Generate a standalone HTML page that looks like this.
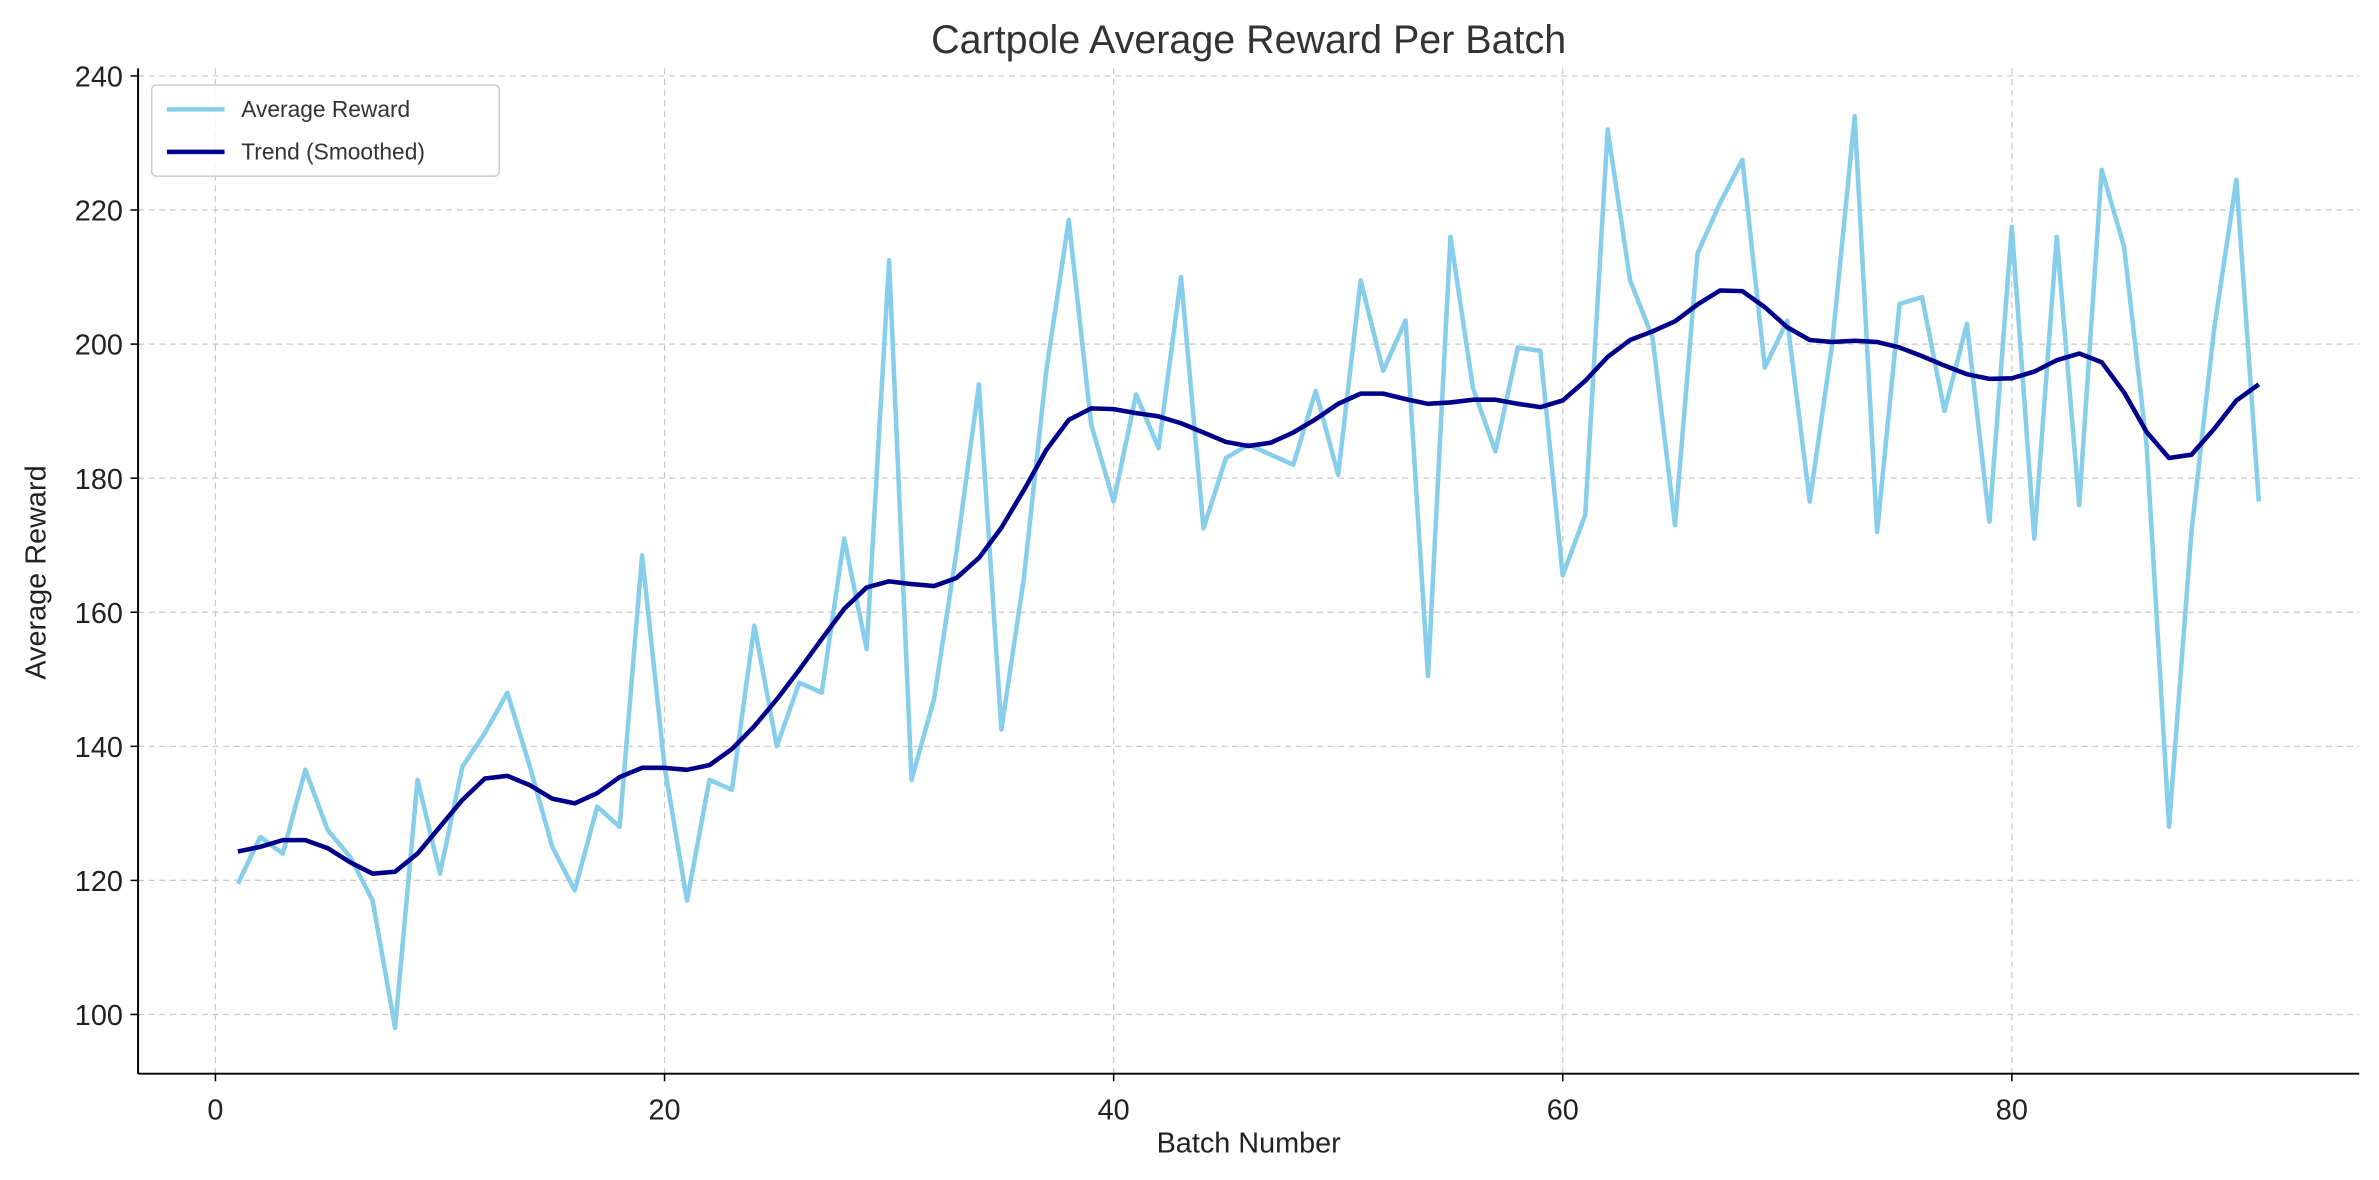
<!DOCTYPE html>
<html><head><meta charset="utf-8"><style>
html,body{margin:0;padding:0;background:#fff;overflow:hidden;}
svg{display:block;font-family:"Liberation Sans","DejaVu Sans",sans-serif;}
</style></head><body>
<svg id="chart" width="2379" height="1180" viewBox="0 0 1568 777" preserveAspectRatio="none" xmlns="http://www.w3.org/2000/svg">
<rect width="1568" height="777" fill="#fff"/>
<text x="823" y="35" font-size="26" fill="#333" text-anchor="middle">Cartpole Average Reward Per Batch</text>
<g id="grid"></g><g id="series"></g><g id="axes"></g>
<text x="823" y="759" font-size="19" fill="#222" text-anchor="middle">Batch Number</text>
<text x="30" y="377" font-size="19" fill="#222" text-anchor="middle" transform="rotate(-90 30 377)">Average Reward</text>
<g>
<rect x="100" y="56" width="229" height="60" rx="3" fill="#fff" fill-opacity="0.85" stroke="#ccc"/>
<line x1="110" y1="72" x2="148" y2="72" stroke="#87ceeb" stroke-width="3"/>
<text x="159" y="77" font-size="15" fill="#333">Average Reward</text>
<line x1="110" y1="100" x2="148" y2="100" stroke="#00008b" stroke-width="3"/>
<text x="159" y="105" font-size="15" fill="#333">Trend (Smoothed)</text>
</g>
</svg>
<script>
const rewards=[119.5,126.5,124,136.5,127.5,123.5,117,98,135,121,137,142,148,137,125,118.5,131,128,168.5,137,117,135,133.5,158,140,149.5,148,171,154.5,212.5,135,147,169,194,142.5,165,196,218.5,188,176.5,192.5,184.5,210,172.5,183,185,183.5,182,193,180.5,209.5,196,203.5,150.5,216,193.5,184,199.5,199,165.5,174.5,232,209.5,201,173,213.5,221,227.5,196.5,203.5,176.5,200,234,172,206,207,190,203,173.5,217.5,171,216,176,226,214.5,185,128,172,202,224.5,176.5];
const trend=[124.3,125,126,126,124.8,122.7,121,121.3,124,128,132,135.2,135.6,134.2,132.2,131.5,133,135.4,136.8,136.8,136.5,137.2,139.6,143,147,151.4,156,160.5,163.7,164.6,164.2,163.9,165.1,168.1,172.6,178.2,184.2,188.7,190.4,190.3,189.7,189.2,188.2,186.8,185.4,184.8,185.3,186.8,188.8,191.1,192.6,192.6,191.8,191.1,191.3,191.7,191.7,191.1,190.6,191.6,194.5,198.1,200.6,201.9,203.4,205.9,208,207.9,205.5,202.5,200.6,200.3,200.5,200.3,199.5,198.2,196.8,195.5,194.8,194.9,195.9,197.6,198.6,197.3,192.8,186.9,183,183.5,187.3,191.6,194];
const xTicks=[0,20,40,60,80];
const yTicks=[100,120,140,160,180,200,220,240];
const NS="http://www.w3.org/2000/svg";
const L=91,R=1555,T=45,B=707;
function sx(v){return 142+v*14.8;}
function sy(v){return 668-(v-100)*(618/140);}
function mk(tag,attrs,parent){const e=document.createElementNS(NS,tag);for(const k in attrs)e.setAttribute(k,attrs[k]);parent.appendChild(e);return e;}
const grid=document.getElementById('grid'),axes=document.getElementById('axes'),ser=document.getElementById('series');
xTicks.forEach(t=>{const x=sx(t);
 const g=mk('line',{x1:x,x2:x,y1:T,y2:B,stroke:'#c8c8c8','stroke-dasharray':'4,3','stroke-width':0.8},grid);
 
 
 mk('line',{x1:x,x2:x,y1:B,y2:B+5,stroke:'#000','stroke-width':1},axes);
 const tx=mk('text',{x:x,y:B+30,'font-size':19,fill:'#222','text-anchor':'middle'},axes);tx.textContent=t;
 
 
});
yTicks.forEach(t=>{const y=sy(t);
 const g=mk('line',{x1:L,x2:R,y1:y,y2:y,stroke:'#c8c8c8','stroke-dasharray':'4,3','stroke-width':0.8},grid);
 
 
 mk('line',{x1:L-5,x2:L,y1:y,y2:y,stroke:'#000','stroke-width':1},axes);
 const tx=mk('text',{x:L-10,y:y+7,'font-size':19,fill:'#222','text-anchor':'end'},axes);tx.textContent=t;
 
 
});
mk('line',{x1:L,x2:L,y1:T,y2:B,stroke:'#000','stroke-width':1.3},axes);
mk('line',{x1:L,x2:R,y1:B,y2:B,stroke:'#000','stroke-width':1.3},axes);
function pts(a){return a.map((v,i)=>sx(i+1).toFixed(1)+','+sy(v).toFixed(1)).join(' ');}
const p1=mk('polyline',{points:pts(rewards),fill:'none',stroke:'#87ceeb','stroke-width':3,'stroke-linejoin':'round'},ser);


const p2=mk('polyline',{points:pts(trend),fill:'none',stroke:'#00008b','stroke-width':3,'stroke-linejoin':'round'},ser);


</script>
</body></html>
